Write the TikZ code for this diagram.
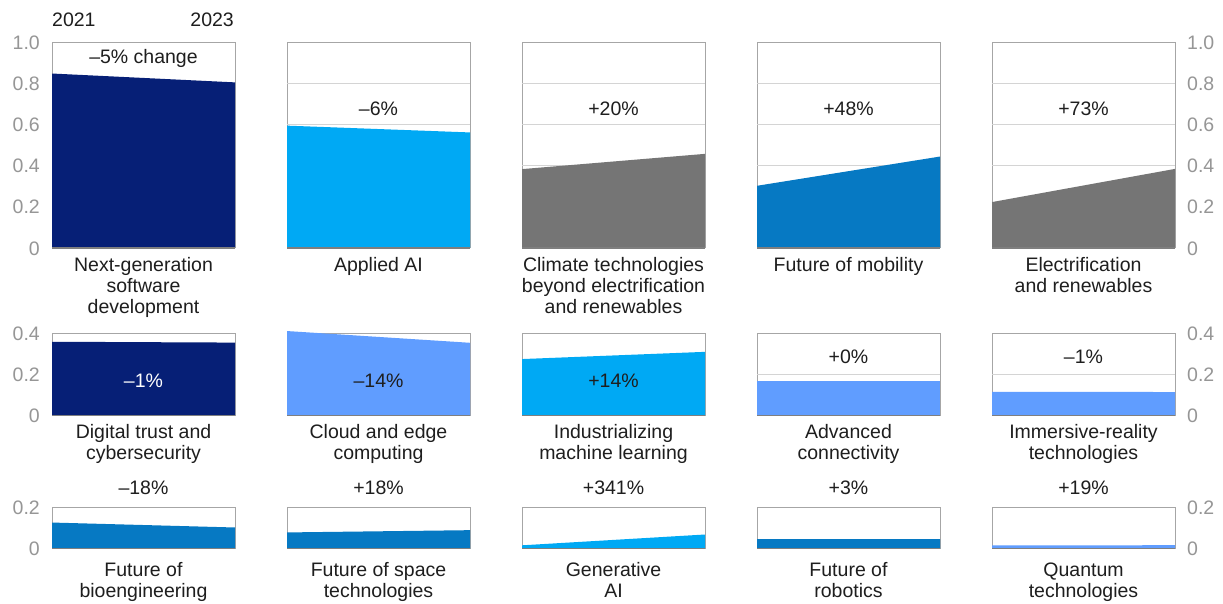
\documentclass[tikz,border=0pt]{standalone}
\usepackage{fontspec}
\setmainfont{Liberation Sans}
\definecolor{navy}{RGB}{6,31,118}
\definecolor{cyanfill}{RGB}{0,169,244}
\definecolor{grayfill}{RGB}{117,117,117}
\definecolor{midblue}{RGB}{6,121,195}
\definecolor{lightblue}{RGB}{96,157,255}
\definecolor{framec}{RGB}{166,166,166}
\definecolor{gridc}{RGB}{212,212,212}
\definecolor{axisc}{RGB}{127,127,127}
\definecolor{ticklbl}{RGB}{150,150,150}
\definecolor{ink}{RGB}{30,30,30}
\newcommand\chartframe[3]{%
  \draw[frameln] (#1,#2) -- (#1,#2-206*#3) -- (#1+183,#2-206*#3) -- (#1+183,#2);}
\newcommand\chartgrid[3]{%
  \draw[gridln] (#1,#2-206*#3) -- (#1+183,#2-206*#3);}
\newcommand\chartfill[5]{%
  \fill[#5] (#1,#2) -- (#1,#2-206*#3) -- (#1+183,#2-206*#4) -- (#1+183,#2) -- cycle;
  \draw[axisln] (#1,#2) -- (#1+183,#2);}
\begin{document}
\begin{tikzpicture}[x=1pt,y=-1pt,
  frameln/.style={draw=framec,line width=1pt},
  gridln/.style={draw=gridc,line width=1pt},
  axisln/.style={draw=axisc,line width=1.2pt},
  txt/.style={font=\fontsize{19.5}{21}\selectfont,inner sep=0pt,text=ink},
  cat/.style={txt,align=center,anchor=north},
  pct/.style={txt,anchor=base},
  tickl/.style={font=\fontsize{19.5}{21}\selectfont,inner sep=0pt,text=ticklbl,anchor=base east},
  tickr/.style={font=\fontsize{19.5}{21}\selectfont,inner sep=0pt,text=ticklbl,anchor=base west}]
\useasboundingbox[fill=white] (0,0) rectangle (1223,603);

% ---------- frames and grids ----------
\foreach \xo in {52,287,522,757,992}{
  \chartframe{\xo}{248}{1.0}
  \foreach \g in {0.2,0.4,0.6,0.8}{\chartgrid{\xo}{248}{\g}}
  \chartframe{\xo}{415.5}{0.4}
  \chartgrid{\xo}{415.5}{0.2}
  \chartframe{\xo}{548.5}{0.2}
}

% ---------- fills: row 1 ----------
\chartfill{52}{248}{0.847}{0.804}{navy}
\chartfill{287}{248}{0.594}{0.561}{cyanfill}
\chartfill{522}{248}{0.383}{0.457}{grayfill}
\chartfill{757}{248}{0.302}{0.444}{midblue}
\chartfill{992}{248}{0.223}{0.384}{grayfill}
% ---------- fills: row 2 ----------
\chartfill{52}{415.5}{0.358}{0.354}{navy}
\chartfill{287}{415.5}{0.410}{0.353}{lightblue}
\chartfill{522}{415.5}{0.274}{0.309}{cyanfill}
\chartfill{757}{415.5}{0.167}{0.167}{lightblue}
\chartfill{992}{415.5}{0.115}{0.114}{lightblue}
% ---------- fills: row 3 ----------
\chartfill{52}{548.5}{0.126}{0.102}{midblue}
\chartfill{287}{548.5}{0.078}{0.089}{midblue}
\chartfill{522}{548.5}{0.0155}{0.068}{cyanfill}
\chartfill{757}{548.5}{0.045}{0.046}{midblue}
\chartfill{992}{548.5}{0.015}{0.016}{lightblue}

% ---------- year labels ----------
\node[txt,anchor=base west] (y2021) at (52,26.5) {2021};
\node[txt,anchor=base east] (y2023) at (234,26.5) {2023};

% ---------- axis labels ----------
\foreach \v/\t [count=\i] in {0/0,0.2/0.2,0.4/0.4,0.6/0.6,0.8/0.8,1.0/1.0}{
  \node[tickl] (la\i) at (40,248-206*\v+7) {\t};
  \node[tickr] (ra\i) at (1187,248-206*\v+7) {\t};
}
\foreach \v/\t [count=\i] in {0/0,0.2/0.2,0.4/0.4}{
  \node[tickl] (lb\i) at (40,415.5-206*\v+7) {\t};
  \node[tickr] (rb\i) at (1187,415.5-206*\v+7) {\t};
}
\foreach \v/\t [count=\i] in {0/0,0.2/0.2}{
  \node[tickl] (lc\i) at (40,548.5-206*\v+7) {\t};
  \node[tickr] (rc\i) at (1187,548.5-206*\v+7) {\t};
}

% ---------- change labels ----------
\node[pct] (p11) at (143.5,63) {–5\% change};
\node[pct] (p12) at (378.5,115) {–6\%};
\node[pct] (p13) at (613.5,115) {+20\%};
\node[pct] (p14) at (848.5,115) {+48\%};
\node[pct] (p15) at (1083.5,115) {+73\%};
\node[pct,text=white] (p21) at (143.5,387) {–1\%};
\node[pct] (p22) at (378.5,387) {–14\%};
\node[pct] (p23) at (613.5,387) {+14\%};
\node[pct] (p24) at (848.5,363) {+0\%};
\node[pct] (p25) at (1083.5,363) {–1\%};
\node[pct] (p31) at (143.5,494) {–18\%};
\node[pct] (p32) at (378.5,494) {+18\%};
\node[pct] (p33) at (613.5,494) {+341\%};
\node[pct] (p34) at (848.5,494) {+3\%};
\node[pct] (p35) at (1083.5,494) {+19\%};

% ---------- category labels ----------
\node[cat] (c11) at (143.5,257.5) {Next-generation\\software\\development};
\node[cat] (c12) at (378.5,257.5) {Applied AI};
\node[cat] (c13) at (613.5,257.5) {Climate technologies\\beyond electrification\\and renewables};
\node[cat] (c14) at (848.5,257.5) {Future of mobility};
\node[cat] (c15) at (1083.5,257.5) {Electrification\\and renewables};
\node[cat] (c21) at (143.5,424.5) {Digital trust and\\cybersecurity};
\node[cat] (c22) at (378.5,424.5) {Cloud and edge\\computing};
\node[cat] (c23) at (613.5,424.5) {Industrializing\\machine learning};
\node[cat] (c24) at (848.5,424.5) {Advanced\\connectivity};
\node[cat] (c25) at (1083.5,424.5) {Immersive-reality\\technologies};
\node[cat] (c31) at (143.5,562.5) {Future of\\bioengineering};
\node[cat] (c32) at (378.5,562.5) {Future of space\\technologies};
\node[cat] (c33) at (613.5,562.5) {Generative\\AI};
\node[cat] (c34) at (848.5,562.5) {Future of\\robotics};
\node[cat] (c35) at (1083.5,562.5) {Quantum\\technologies};
\end{tikzpicture}
\end{document}
